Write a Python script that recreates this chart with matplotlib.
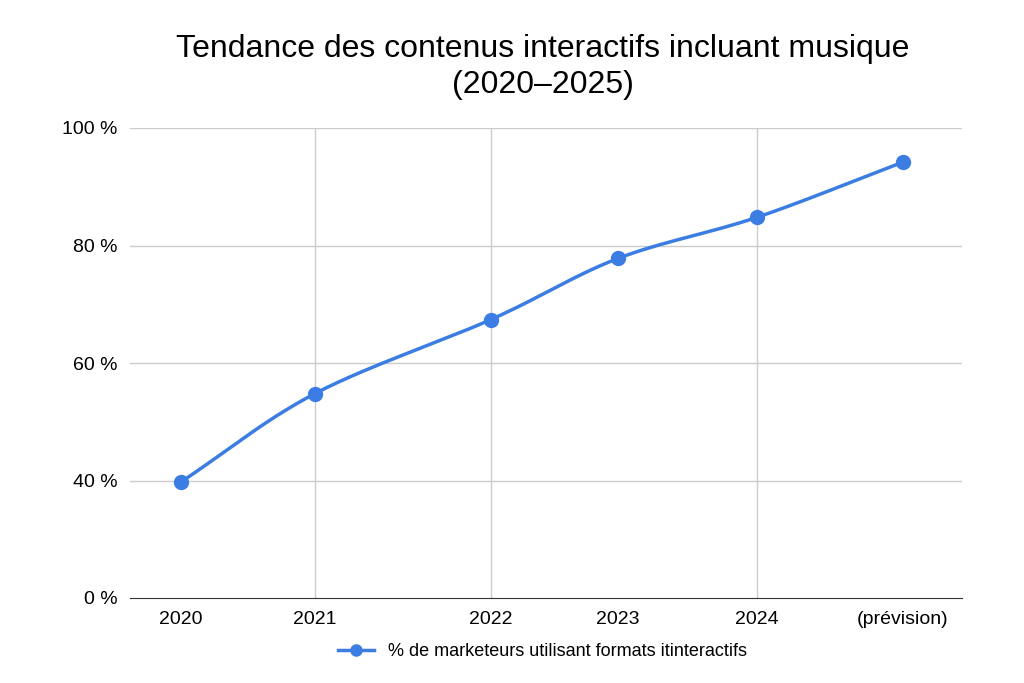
import numpy as np
import matplotlib
matplotlib.use("Agg")
import matplotlib.pyplot as plt

# data
years = ["2020", "2021", "2022", "2023", "2024", "(prévision)"]
pct = [39.5, 54.8, 67.4, 77.8, 84.8, 94.2]
tick_vals = [0, 40, 60, 80, 100]
tick_labels = ["0 %", "40 %", "60 %", "80 %", "100 %"]

# uneven spacing as in the original
x_pos = np.array([181, 315, 491, 618, 757, 903], dtype=float)
grid_x = [315, 491, 757]

plt.rcParams["font.family"] = "Liberation Sans"


def to_axis(v):
    return np.interp(v, tick_vals, range(len(tick_vals)))


y = to_axis(np.array(pct))


def catmull(xs, ys, n=30):
    px = np.concatenate([[2 * xs[0] - xs[1]], xs, [2 * xs[-1] - xs[-2]]])
    py = np.concatenate([[2 * ys[0] - ys[1]], ys, [2 * ys[-1] - ys[-2]]])
    ox, oy = [], []
    for i in range(1, len(px) - 2):
        t = np.linspace(0, 1, n)
        for p, out in ((px, ox), (py, oy)):
            p0, p1, p2, p3 = p[i - 1], p[i], p[i + 1], p[i + 2]
            out.extend(0.5 * (2 * p1 + (-p0 + p2) * t + (2 * p0 - 5 * p1 + 4 * p2 - p3) * t ** 2
                              + (-p0 + 3 * p1 - 3 * p2 + p3) * t ** 3))
    return ox, oy


fig = plt.figure(figsize=(10.24, 6.83), dpi=100)
ax = fig.add_axes([130 / 1024, 1 - 598 / 683, 832 / 1024, 470 / 683])
ax.set_xlim(130, 962)
ax.set_ylim(0, 4)
blue = "#3b7de3"
sx, sy = catmull(x_pos, y)
ax.plot(sx, sy, color=blue, lw=2.5, zorder=3)
ax.plot(x_pos, y, "o", color=blue, ms=10, zorder=4)
ax.plot([], [], "-o", color=blue, lw=2.5, ms=8,
        label="% de marketeurs utilisant formats itinteractifs")

ax.set_yticks(range(len(tick_vals)))
ax.set_yticklabels(tick_labels, fontsize=14)
ax.set_xticks(x_pos)
ax.set_xticklabels(years, fontsize=14)
ax.tick_params(length=0, pad=9)
for v in range(1, len(tick_vals)):
    ax.axhline(v, color="#cccccc", lw=1, zorder=1)
for gx in grid_x:
    ax.axvline(gx, color="#cccccc", lw=1, zorder=1)
for s in ["top", "right", "left"]:
    ax.spines[s].set_visible(False)
ax.spines["bottom"].set_color("#333333")

fig.text(0.53, 1 - 67 / 683, "Tendance des contenus interactifs incluant musique\n(2020–2025)",
         ha="center", va="center", fontsize=23, linespacing=1.25)
fig.legend(loc="center", bbox_to_anchor=(0.53, 1 - 652 / 683), frameon=False, fontsize=13,
           handlelength=2)
fig.savefig("out.png")
